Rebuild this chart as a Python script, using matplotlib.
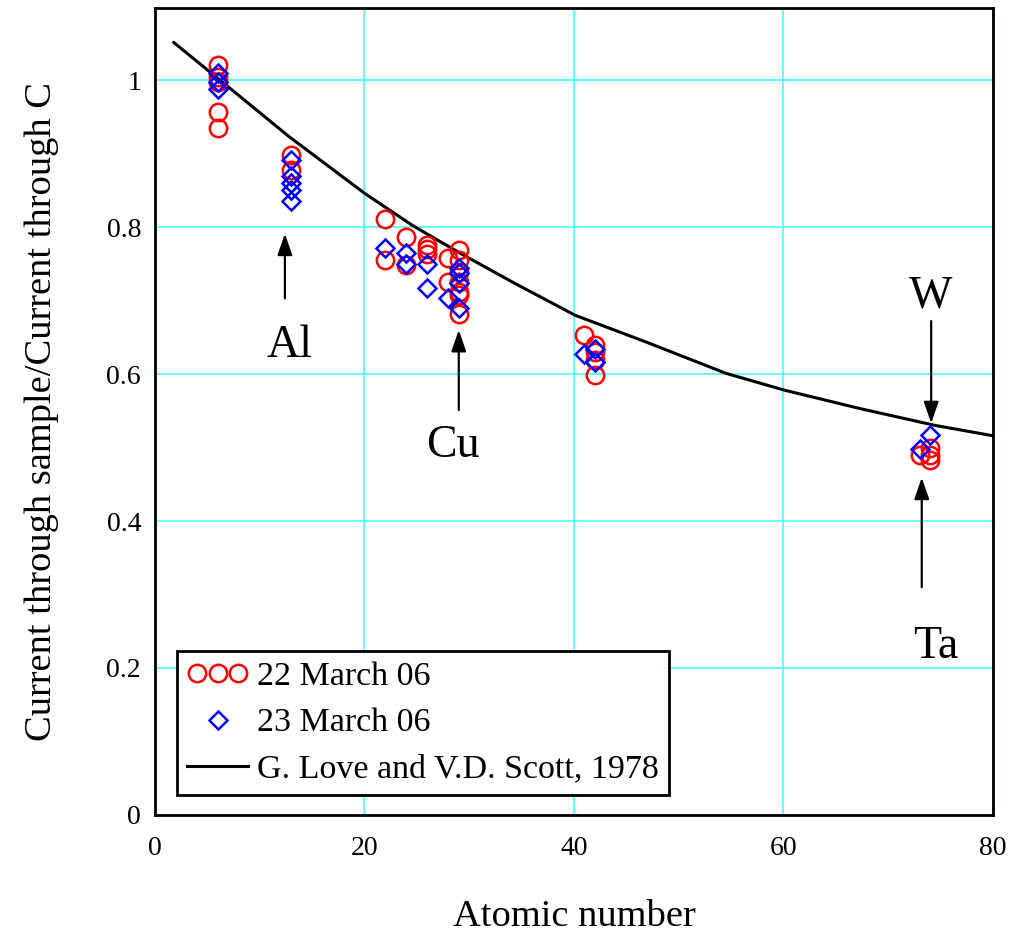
import numpy as np
import matplotlib
matplotlib.use("Agg")
from matplotlib import pyplot as plt
from matplotlib.legend_handler import HandlerLine2D

plt.rcParams['font.family'] = ['Liberation Serif', 'DejaVu Serif']

# 22 March 06 (red circles)
z_22 = [6, 6, 6, 6, 6,
        13, 13,
        22, 22, 24, 24, 26, 26, 26, 28, 28,
        29, 29, 29, 29, 29, 29, 29,
        41, 42, 42, 42, 42,
        73, 74, 74, 74]
r_22 = [1.020, 1.004, 0.997, 0.956, 0.935,
        0.898, 0.878,
        0.811, 0.755, 0.786, 0.748, 0.776, 0.770, 0.763, 0.758, 0.725,
        0.769, 0.755, 0.739, 0.725, 0.711, 0.707, 0.682,
        0.653, 0.639, 0.630, 0.619, 0.599,
        0.490, 0.499, 0.490, 0.483]

# 23 March 06 (blue diamonds)
z_23 = [6, 6, 6,
        13, 13, 13, 13, 13,
        22, 24, 24, 26, 26, 28,
        29, 29, 29, 29,
        41, 42, 42,
        73, 74]
r_23 = [1.010, 0.997, 0.988,
        0.891, 0.869, 0.860, 0.850, 0.835,
        0.771, 0.765, 0.750, 0.750, 0.717, 0.703,
        0.744, 0.737, 0.724, 0.690,
        0.627, 0.634, 0.616,
        0.498, 0.517]

# G. Love and V.D. Scott, 1978
z_love = [1.8, 5.6, 12.8, 20.0, 24.6, 29.3, 34.4, 40.1, 46.8, 54.5, 60.1, 67.3, 74.5, 80.0]
r_love = [1.051, 1.007, 0.923, 0.846, 0.802, 0.763, 0.723, 0.680, 0.644, 0.601, 0.578, 0.553, 0.530, 0.516]

fig = plt.figure(figsize=(10.15, 9.33), dpi=100)
ax = fig.add_axes([0.1527, 0.1265, 0.8256, 0.8649])

ax.grid(True, color='#55ffff', linewidth=1.3)
ax.set_axisbelow(True)

line_love, = ax.plot(z_love, r_love, color='black', linewidth=2.2,
                     label='G. Love and V.D. Scott, 1978')
circ, = ax.plot(z_22, r_22, linestyle='none', marker='o', markersize=12.5,
                markerfacecolor='none', markeredgecolor='red', markeredgewidth=1.8,
                label='22 March 06')
diam, = ax.plot(z_23, r_23, linestyle='none', marker='D', markersize=9,
                markerfacecolor='none', markeredgecolor='blue', markeredgewidth=1.8,
                label='23 March 06')

ax.set_xlim(0, 80)
ax.set_ylim(0, 1.098)
ax.set_xticks([0, 20, 40, 60, 80])
ax.set_yticks([0, 0.2, 0.4, 0.6, 0.8, 1])
ax.set_yticklabels(['0', '0.2', '0.4', '0.6', '0.8', '1'])
ax.tick_params(length=0, labelsize=20)
ax.tick_params(axis='x', pad=15)
ax.tick_params(axis='y', pad=10)
for s in ax.spines.values():
    s.set_linewidth(2)

ax.set_xlabel('Atomic number', fontsize=27.7)
ax.set_ylabel('Current through sample/Current through C', fontsize=27.7)
ax.xaxis.set_label_coords(0.5, -0.105)
ax.yaxis.set_label_coords(-0.115, 0.5)

arrow = dict(arrowstyle='-|>,head_length=1.3,head_width=0.45', color='black', lw=1.6,
             shrinkA=0, shrinkB=0)
ax.annotate('', xy=(12.4, 0.791), xytext=(12.4, 0.703), arrowprops=arrow)
ax.annotate('', xy=(29.0, 0.660), xytext=(29.0, 0.551), arrowprops=arrow)
ax.annotate('', xy=(74.1, 0.533), xytext=(74.1, 0.672), arrowprops=arrow)
ax.annotate('', xy=(73.2, 0.459), xytext=(73.2, 0.310), arrowprops=arrow)

ax.text(12.8, 0.623, 'Al', fontsize=33, ha='center', va='baseline')
ax.text(28.4, 0.487, 'Cu', fontsize=33, ha='center', va='baseline')
ax.text(74.0, 0.690, 'W', fontsize=33, ha='center', va='baseline')
ax.text(74.5, 0.214, 'Ta', fontsize=33, ha='center', va='baseline')

leg = ax.legend(handles=[circ, diam, line_love], loc='lower left',
                bbox_to_anchor=(0.026, 0.025), borderaxespad=0, fontsize=24.5,
                numpoints=1, handler_map={circ: HandlerLine2D(numpoints=3)},
                fancybox=False, framealpha=1, edgecolor='black',
                handlelength=1.8, handletextpad=0.25, labelspacing=0.45,
                borderpad=0.3)
leg.get_frame().set_linewidth(2)

fig.savefig('out.png', dpi=100)
